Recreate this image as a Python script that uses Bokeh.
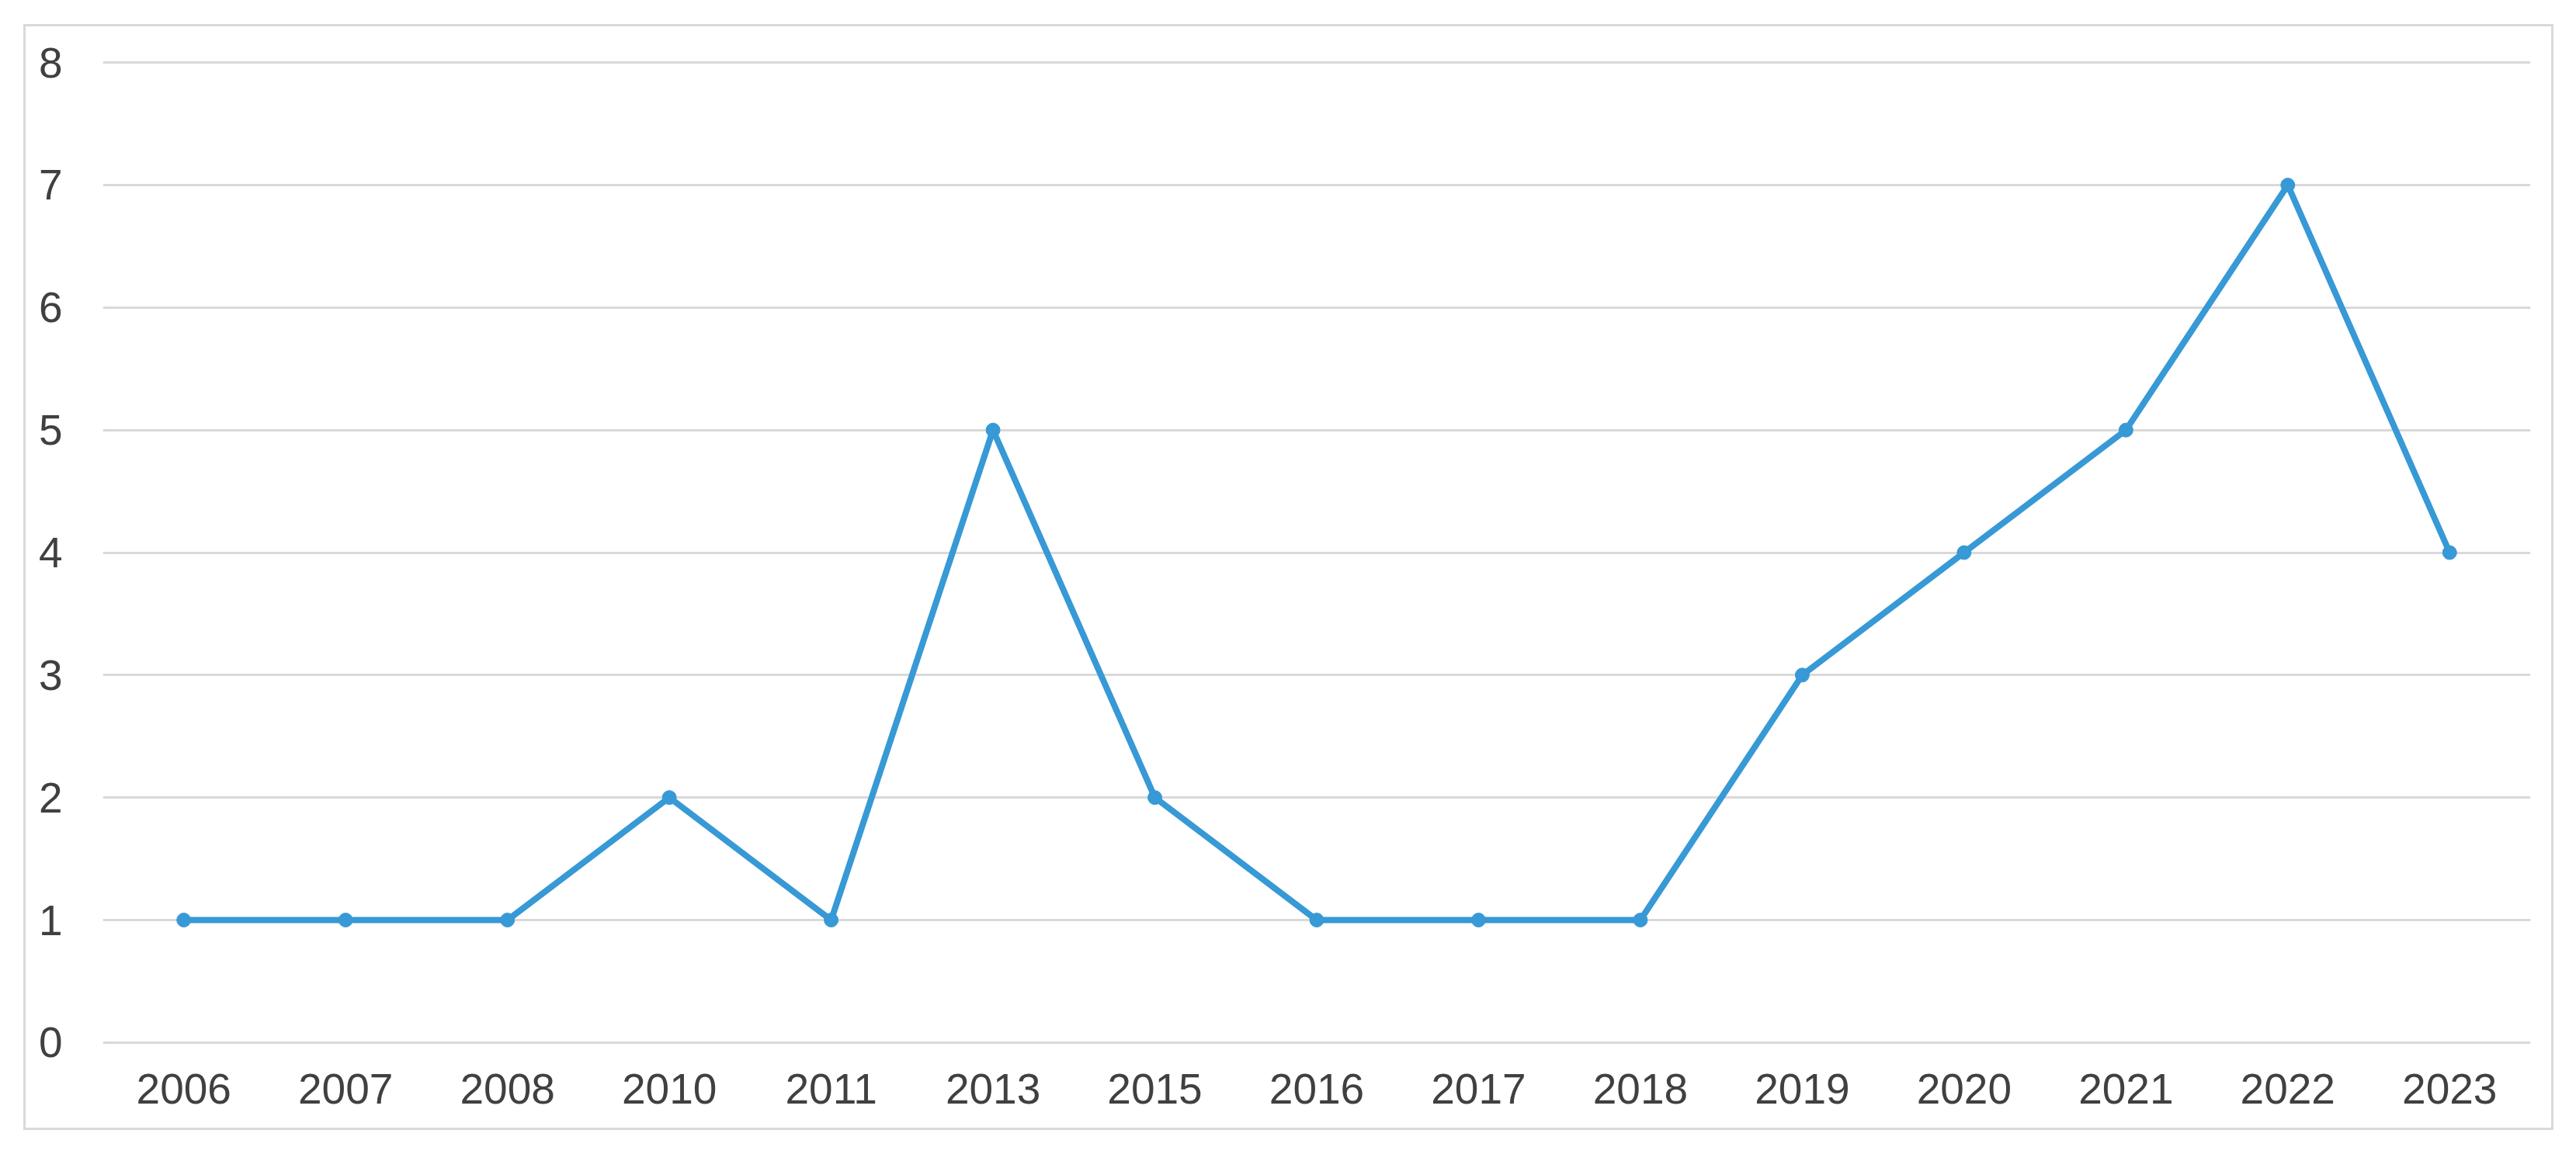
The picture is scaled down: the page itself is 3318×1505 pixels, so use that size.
from bokeh.plotting import figure
from bokeh.models import FactorRange, Range1d, FixedTicker, Spacer
from bokeh.layouts import column, row
from bokeh.embed import file_html
from bokeh.resources import INLINE

years = ["2006", "2007", "2008", "2010", "2011", "2013", "2015", "2016",
         "2017", "2018", "2019", "2020", "2021", "2022", "2023"]
counts = [1, 1, 1, 2, 1, 5, 2, 1, 1, 1, 3, 4, 5, 7, 4]
y_ticks = [0, 1, 2, 3, 4, 5, 6, 7, 8]

LINE = "#3799d5"
TXT = "#404040"
FONT = "Liberation Sans"

p = figure(x_range=FactorRange(*years, range_padding=0), y_range=Range1d(-0.02, 8.02),
           width=3253, height=1419, output_backend="svg", toolbar_location=None,
           min_border_left=99, min_border_right=33, min_border_top=43,
           min_border_bottom=113)
p.styles = {"border": "3px solid #d9d9d9", "box-sizing": "content-box"}
p.outline_line_color = None
p.background_fill_color = "white"
p.border_fill_color = "white"

p.line(years, counts, line_color=LINE, line_width=8)
p.scatter(years, counts, size=18, fill_color=LINE, line_color=LINE)

p.xgrid.grid_line_color = None
p.ygrid.grid_line_color = "#d9d9d9"
p.ygrid.grid_line_width = 3
p.yaxis.ticker = FixedTicker(ticks=y_ticks)

for ax in (p.xaxis[0], p.yaxis[0]):
    ax.axis_line_color = None
    ax.major_tick_line_color = None
    ax.minor_tick_line_color = None
    ax.major_label_text_font = FONT
    ax.major_label_text_font_size = "55px"
    ax.major_label_text_color = TXT
p.xaxis.major_label_standoff = 31
p.yaxis.major_label_standoff = 46

layout = column(Spacer(height=31), row(Spacer(width=30), p))

open("out.html", "w").write(file_html(layout, INLINE))
